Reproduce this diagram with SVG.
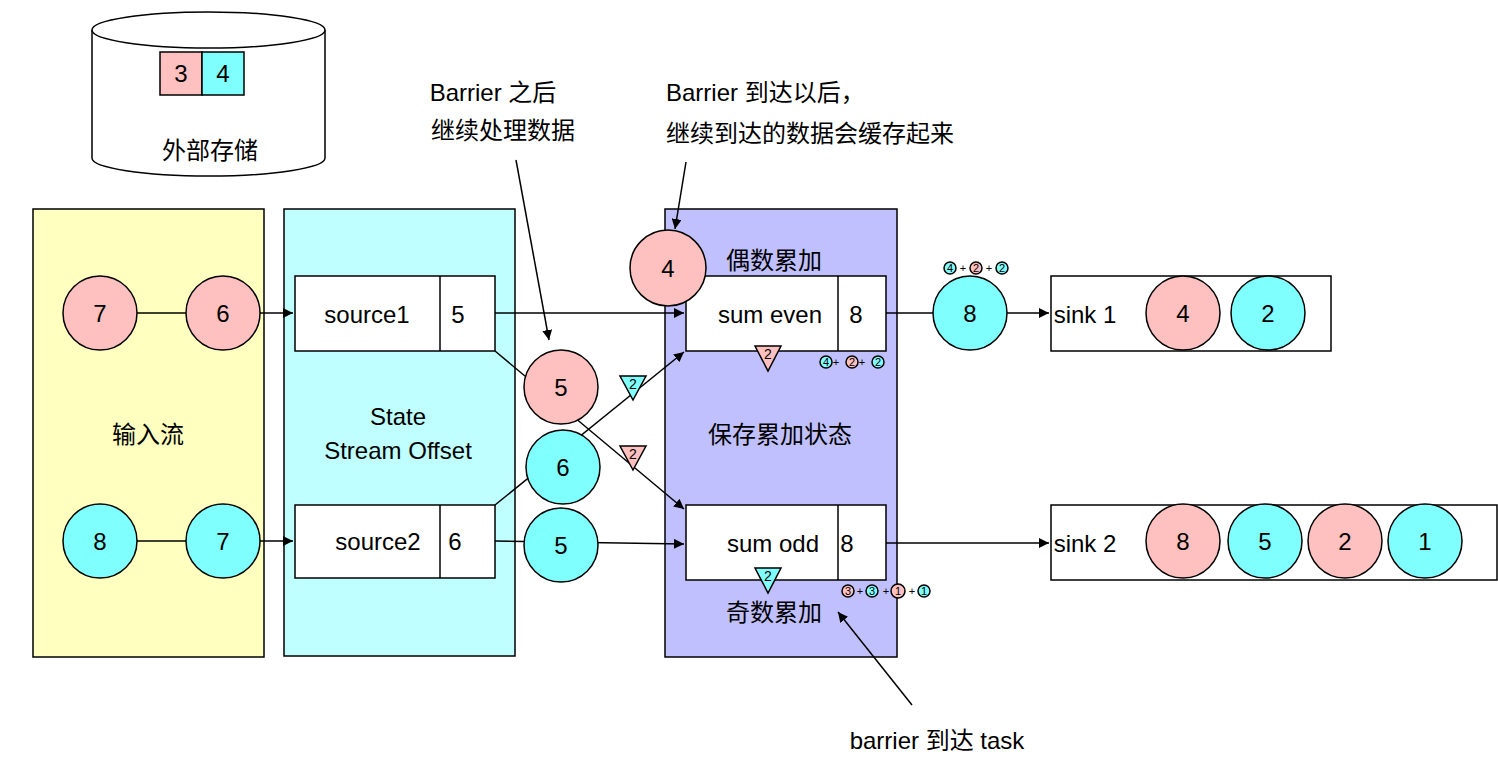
<svg xmlns="http://www.w3.org/2000/svg" width="1498" height="758" viewBox="0 0 1498 758">
<defs>
<marker id="ar" viewBox="0 0 10 10" refX="10" refY="5" markerWidth="10" markerHeight="10" markerUnits="userSpaceOnUse" orient="auto"><path d="M0,0 L10,5 L0,10 z" fill="#000"/></marker>
</defs>
<style>
text{font-family:"Liberation Sans","Noto Sans CJK SC",sans-serif;font-size:24px;fill:#000;text-anchor:middle;dominant-baseline:central}
.p{fill:#ffc0c0;stroke:#000;stroke-width:1.5}
.c{fill:#80ffff;stroke:#000;stroke-width:1.5}
.b{fill:#fff;stroke:#000;stroke-width:1.5}
.l{stroke:#000;stroke-width:1.5;fill:none}
.s{font-size:11px}
.t{font-size:14px}
.lt{text-anchor:start}
</style>
<rect x="33" y="209" width="231" height="448" fill="#ffffc0" stroke="#000" stroke-width="1.5"/>
<rect x="284" y="209" width="231" height="447" fill="#c0ffff" stroke="#000" stroke-width="1.5"/>
<rect x="665" y="209" width="232" height="448" fill="#c0c0ff" stroke="#000" stroke-width="1.5"/>
<text x="148" y="434">输入流</text>
<text x="398" y="416">State</text>
<text x="398" y="450">Stream Offset</text>
<text x="780" y="434">保存累加状态</text>
<text x="774" y="260">偶数累加</text>
<text x="774" y="612">奇数累加</text>
<g id="storage">
<path d="M92,30 V158 A116.5,18 0 0 0 325,158 V30" class="b"/>
<ellipse cx="208.5" cy="30" rx="116.5" ry="18" class="b"/>
<rect x="160" y="52" width="42" height="43" class="p"/><text x="181" y="73">3</text>
<rect x="202" y="52" width="42" height="43" class="c"/><text x="223" y="73">4</text>
<text x="210" y="150">外部存储</text>
</g>
<g id="connectors">
<line x1="137" y1="313" x2="186" y2="313" class="l"/>
<line x1="137" y1="541" x2="186" y2="541" class="l"/>
<line x1="260" y1="313" x2="293" y2="313" class="l" marker-end="url(#ar)"/>
<line x1="260" y1="541" x2="293" y2="541" class="l" marker-end="url(#ar)"/>
<line x1="495" y1="313" x2="684" y2="313" class="l" marker-end="url(#ar)"/>
<line x1="495" y1="541" x2="684" y2="544" class="l" marker-end="url(#ar)"/>
<line x1="495" y1="351" x2="684" y2="509" class="l" marker-end="url(#ar)"/>
<line x1="495" y1="505" x2="684" y2="352" class="l" marker-end="url(#ar)"/>
<line x1="886" y1="313" x2="1049" y2="313" class="l" marker-end="url(#ar)"/>
<line x1="886" y1="543" x2="1049" y2="543" class="l" marker-end="url(#ar)"/>
<line x1="516" y1="160" x2="549" y2="340" class="l" marker-end="url(#ar)"/>
<line x1="686" y1="162" x2="675" y2="229" class="l" marker-end="url(#ar)"/>
<line x1="912" y1="705" x2="838" y2="612" class="l" marker-end="url(#ar)"/>
</g>
<g id="in1"><circle cx="100" cy="313" r="37" class="p"/><text x="100" y="313">7</text></g>
<g id="in2"><circle cx="223" cy="313" r="37" class="p"/><text x="223" y="313">6</text></g>
<g id="in3"><circle cx="100" cy="541" r="37" class="c"/><text x="100" y="541">8</text></g>
<g id="in4"><circle cx="223" cy="541" r="37" class="c"/><text x="223" y="541">7</text></g>
<g id="source1"><rect x="295" y="276" width="200" height="75" class="b"/><line x1="440" y1="276" x2="440" y2="351" class="l"/><text x="367" y="314">source1</text><text x="458" y="314">5</text></g>
<g id="source2"><rect x="295" y="505" width="200" height="73" class="b"/><line x1="440" y1="505" x2="440" y2="578" class="l"/><text x="378" y="541">source2</text><text x="455" y="541">6</text></g>
<g id="sumeven"><rect x="686" y="276" width="200" height="75" class="b"/><line x1="838" y1="276" x2="838" y2="351" class="l"/><text x="770" y="314">sum even</text><text x="856" y="314">8</text></g>
<g id="sumodd"><rect x="686" y="505" width="200" height="75" class="b"/><line x1="838" y1="505" x2="838" y2="580" class="l"/><text x="773" y="543">sum odd</text><text x="847" y="543">8</text></g>
<g id="m5p"><circle cx="561" cy="387" r="37" class="p"/><text x="561" y="387">5</text></g>
<g id="m6c"><circle cx="563" cy="467" r="37" class="c"/><text x="563" y="467">6</text></g>
<g id="m5c"><circle cx="561" cy="545" r="37" class="c"/><text x="561" y="545">5</text></g>
<g id="m4p"><circle cx="668" cy="268" r="38" class="p"/><text x="668" y="268">4</text></g>
<g id="tri1"><polygon points="620,376 646,376 633,400" class="c"/><text class="t" x="633" y="384">2</text></g>
<g id="tri2"><polygon points="620,446 646,446 633,470" class="p"/><text class="t" x="633" y="454">2</text></g>
<g id="tri3"><polygon points="755,346 781,346 768,371" class="p"/><text class="t" x="768" y="354">2</text></g>
<g id="tri4"><polygon points="755,568 781,568 768,593" class="c"/><text class="t" x="768" y="576">2</text></g>
<g id="acc1">
<circle cx="826" cy="362" r="6" class="c"/><text class="s" x="826" y="362">4</text><text class="s" x="836" y="362">+</text>
<circle cx="852" cy="362" r="6" class="p"/><text class="s" x="852" y="362">2</text><text class="s" x="862" y="362">+</text>
<circle cx="878" cy="362" r="6" class="c"/><text class="s" x="878" y="362">2</text>
</g>
<g id="acc2">
<circle cx="950" cy="268" r="6" class="c"/><text class="s" x="950" y="268">4</text><text class="s" x="963" y="268">+</text>
<circle cx="976" cy="268" r="6" class="p"/><text class="s" x="976" y="268">2</text><text class="s" x="989" y="268">+</text>
<circle cx="1002" cy="268" r="6" class="c"/><text class="s" x="1002" y="268">2</text>
</g>
<g id="acc3">
<circle cx="848" cy="591" r="6" class="p"/><text class="s" x="848" y="591">3</text><text class="s" x="860" y="591">+</text>
<circle cx="872" cy="591" r="6" class="c"/><text class="s" x="872" y="591">3</text><text class="s" x="886" y="591">+</text>
<circle cx="898" cy="591" r="7" class="p"/><text class="s" x="898" y="591">1</text><text class="s" x="912" y="591">+</text>
<circle cx="924" cy="591" r="6" class="c"/><text class="s" x="924" y="591">1</text>
</g>
<g id="out8"><circle cx="970" cy="313" r="37" class="c"/><text x="970" y="313">8</text></g>
<g id="sink1"><rect x="1051" y="276" width="280" height="75" class="b"/><text x="1085" y="314">sink 1</text>
<circle cx="1183" cy="313" r="37" class="p"/><text x="1183" y="313">4</text>
<circle cx="1268" cy="313" r="37" class="c"/><text x="1268" y="313">2</text></g>
<g id="sink2"><rect x="1051" y="505" width="446" height="75" class="b"/><text x="1085" y="543">sink 2</text>
<circle cx="1183" cy="541" r="37" class="p"/><text x="1183" y="541">8</text>
<circle cx="1265" cy="541" r="37" class="c"/><text x="1265" y="541">5</text>
<circle cx="1345" cy="541" r="37" class="p"/><text x="1345" y="541">2</text>
<circle cx="1425" cy="541" r="37" class="c"/><text x="1425" y="541">1</text></g>
<text x="493" y="92">Barrier 之后</text>
<text x="503" y="130">继续处理数据</text>
<text class="lt" x="666" y="92">Barrier 到达以后，</text>
<text class="lt" x="666" y="133">继续到达的数据会缓存起来</text>
<text x="937" y="740">barrier 到达 task</text>
</svg>
